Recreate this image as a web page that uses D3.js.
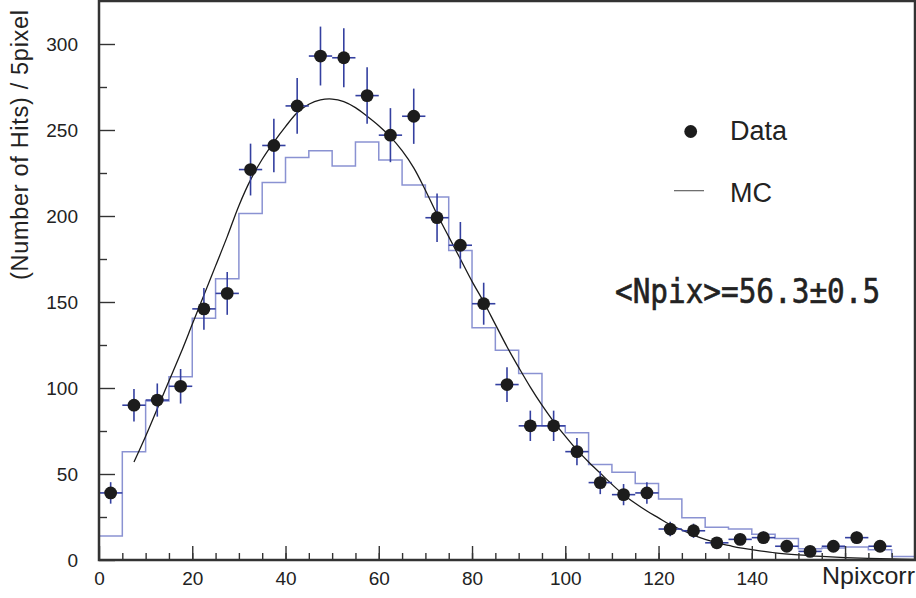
<!DOCTYPE html>
<html>
<head>
<meta charset="utf-8">
<script src="https://cdn.jsdelivr.net/npm/d3@7"></script>
<style>
  html, body { margin: 0; padding: 0; background: #fff; }
  svg { display: block; }
  text { fill: #222; }
</style>
</head>
<body>
<svg id="chart" width="916" height="598"></svg>
<script>
// ---------- data ----------
// lower edges of the 5-pixel bins
const binStart = [0,5,10,15,20,25,30,35,40,45,50,55,60,65,70,75,80,85,90,95,100,105,110,115,120,125,130,135,140,145,150,155,160,165,170];
const binWidth = 5;
// measured data (number of hits per bin), bins 0..165
const dataCounts = [39,90,93,101,146,155,227,241,264,293,292,270,247,258,199,183,149,102,78,78,63,45,38,39,18,17,10,12,13,8,5,8,13,8];
// Monte Carlo histogram, bins 0..170
const mcCounts = [14,63,92.5,106.5,140.5,163.5,201.5,219.5,234,238,229,243,232.5,218,211,180,135,122,108.5,78,74,55.5,51,44.5,35.5,24.5,19,18,15,12.5,6.5,7,7.5,6,2];
// fitted curve
const fitX = [7.5,10,12.5,15,17.5,20,22.5,25,27.5,30,32.5,35,37.5,40,42.5,45,47.5,50,52.5,55,57.5,60,62.5,65,67.5,70,72.5,75,77.5,80,82.5,85,87.5,90,92.5,95,97.5,100,102.5,105,107.5,110,112.5,115,117.5,120,122.5,125,127.5,130,132.5,135,137.5,140,145,150,155,160,165,170,175];
const fitY = [57,72,88,104,120,137,154,171,188,206,221,233,243,252,260,265,267.5,268,266.5,263,258,252.5,246,238,228,215,201,188,175,162,150,137,124,112,100.5,90,80.5,72,64,57,50.5,44,38,33,28.5,24.5,20.5,17.5,14.5,12,10,8.5,7,6,4.2,3,2.1,1.4,0.9,0.6,0.4];
// axis ticks
const xMajorTicks = [0,20,40,60,80,100,120,140,160];
const xTickLabels = ["0","20","40","60","80","100","120","140"];
const yMajorTicks = [0,50,100,150,200,250,300];
const yTickLabels = ["0","50","100","150","200","250","300"];

// ---------- drawing ----------
const SANS = "'Liberation Sans', Arial, Helvetica, sans-serif";
const svg = d3.select("#chart");
const x = d3.scaleLinear().domain([0, 175]).range([99, 915]);
const y = d3.scaleLinear().domain([0, 325]).range([560, 1]);

const plot = svg.append("g");

// MC histogram (step line)
const mcPts = [[binStart[0], 0]];
binStart.forEach((b, i) => { mcPts.push([b, mcCounts[i]]); mcPts.push([b + binWidth, mcCounts[i]]); });
plot.append("path")
  .attr("d", d3.line().x(d => x(d[0])).y(d => y(d[1]))(mcPts))
  .attr("fill", "none")
  .attr("stroke", "#8a92d2")
  .attr("stroke-width", 1.5);

// fit curve
const fitPts = fitX.map((v, i) => [v, fitY[i]]);
plot.append("path")
  .attr("d", d3.line().x(d => x(d[0])).y(d => y(d[1])).curve(d3.curveCatmullRom)(fitPts))
  .attr("fill", "none")
  .attr("stroke", "#1a1a1a")
  .attr("stroke-width", 1.3);

// data points with error bars
const pts = dataCounts.map((c, i) => ({ lo: binStart[i], hi: binStart[i] + binWidth, mid: binStart[i] + binWidth / 2, v: c, e: Math.sqrt(c) }));
const eb = plot.append("g").attr("stroke", "#3440a0").attr("stroke-width", 1.6);
eb.selectAll("line.h").data(pts).join("line").attr("class", "h")
  .attr("x1", d => x(d.lo)).attr("x2", d => x(d.hi))
  .attr("y1", d => y(d.v)).attr("y2", d => y(d.v));
eb.selectAll("line.v").data(pts).join("line").attr("class", "v")
  .attr("x1", d => x(d.mid)).attr("x2", d => x(d.mid))
  .attr("y1", d => y(d.v - d.e)).attr("y2", d => y(d.v + d.e));
plot.selectAll("circle.pt").data(pts).join("circle").attr("class", "pt")
  .attr("cx", d => x(d.mid)).attr("cy", d => y(d.v)).attr("r", 6.4)
  .attr("fill", "#1c1c1c");

// ---------- axes ----------
const axisColor = "#333";
const xMinor = svg.append("g").attr("transform", "translate(0,560)")
  .call(d3.axisBottom(x).tickValues(binStart.filter(v => v > 0)).tickSize(-7).tickFormat(""));
const xMajor = svg.append("g").attr("transform", "translate(0,560)")
  .call(d3.axisBottom(x).tickValues(xMajorTicks).tickSize(-14).tickPadding(12)
    .tickFormat((d, i) => xTickLabels[i] !== undefined ? xTickLabels[i] : ""));
const yMinor = svg.append("g").attr("transform", "translate(99,0)")
  .call(d3.axisLeft(y).tickValues([25,75,125,175,225,275]).tickSize(-8).tickFormat(""));
const yMajor = svg.append("g").attr("transform", "translate(99,0)")
  .call(d3.axisLeft(y).tickValues(yMajorTicks).tickSize(-16).tickPadding(21)
    .tickFormat((d, i) => yTickLabels[i]));

[xMinor, xMajor, yMinor, yMajor].forEach(g => {
  g.select(".domain").remove();
  g.selectAll(".tick line").attr("stroke", axisColor).attr("stroke-width", 1.4);
  g.selectAll(".tick text").attr("fill", "#222")
    .style("font-family", SANS).style("font-size", "19px");
});

// frame
svg.append("rect")
  .attr("x", 99).attr("y", 1).attr("width", 816).attr("height", 559)
  .attr("fill", "none").attr("stroke", axisColor).attr("stroke-width", 2.5);

// axis titles
svg.append("text")
  .attr("transform", "translate(28,145) rotate(-90)")
  .attr("text-anchor", "middle")
  .style("font-family", SANS).style("font-size", "23.5px")
  .attr("textLength", 270).attr("lengthAdjust", "spacing")
  .text("(Number of Hits) / 5pixel");

svg.append("text")
  .attr("x", 822).attr("y", 584)
  .style("font-family", SANS).style("font-size", "24px")
  .attr("textLength", 93).attr("lengthAdjust", "spacingAndGlyphs")
  .text("Npixcorr");

// legend
svg.append("circle").attr("cx", 690.7).attr("cy", 131.5).attr("r", 6.4).attr("fill", "#1c1c1c");
svg.append("text").attr("x", 730).attr("y", 140)
  .style("font-family", SANS).style("font-size", "27px").text("Data");
svg.append("line").attr("x1", 674).attr("x2", 704).attr("y1", 190.7).attr("y2", 190.7)
  .attr("stroke", "#555").attr("stroke-width", 1.1);
svg.append("text").attr("x", 730).attr("y", 201.5)
  .style("font-family", SANS).style("font-size", "27px").text("MC");

// mean annotation (condensed gothic look)
svg.append("text")
  .attr("transform", "translate(615,303) scale(0.89,1)")
  .style("font-family", "'DejaVu Sans Mono', monospace").style("font-size", "33px")
  .style("stroke", "#222").style("stroke-width", "0.6px")
  .text("<Npix>=56.3±0.5");
</script>
</body>
</html>
